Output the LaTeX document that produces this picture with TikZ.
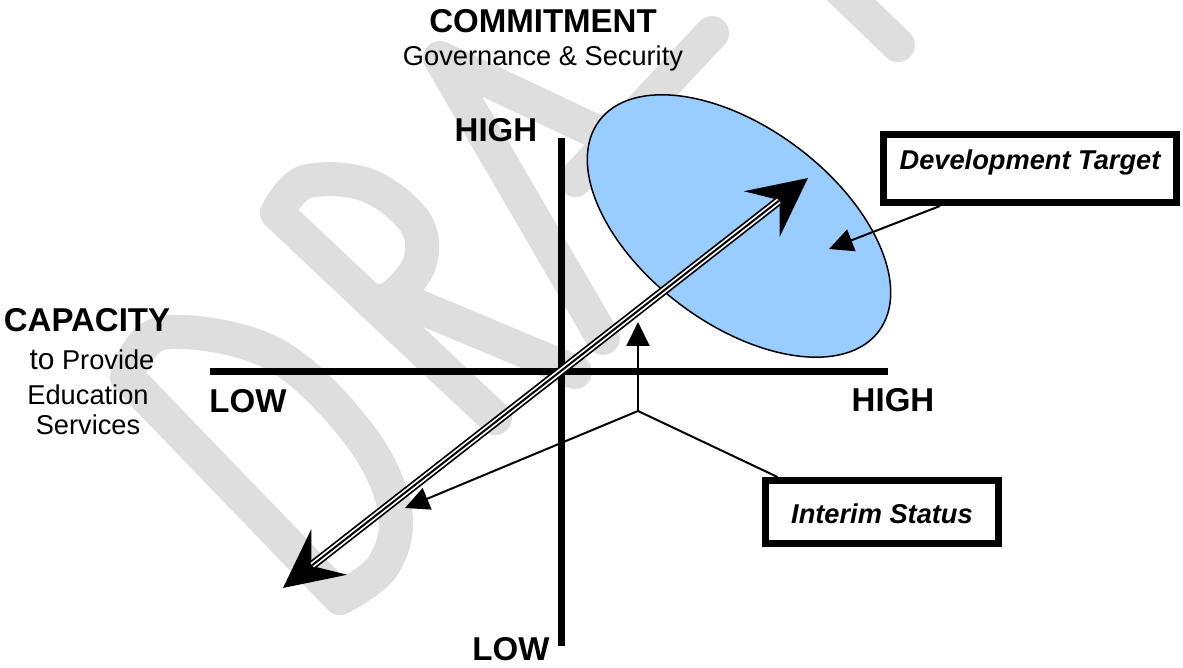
\documentclass[tikz,border=0pt]{standalone}
\usepackage{fontspec}
\setmainfont{Liberation Sans}
\usetikzlibrary{arrows.meta,positioning,shapes.geometric}

\definecolor{zoneblue}{RGB}{153,204,255}
\definecolor{draftgray}{RGB}{222,222,222}

\begin{document}
\begin{tikzpicture}[%
    x=0.02cm,
    y=-0.02cm,
    axis/.style={line width=0.14cm},
    draft/.style={draftgray, line width=0.68cm, line cap=round, line join=round},
    big/.style={font={\fontsize{18.8}{22}\selectfont\bfseries}},
    small/.style={font={\fontsize{15.5}{18.6}\selectfont}},
    callout/.style={draw, line width=0.14cm, fill=white, inner sep=0pt, font={\fontsize{15.5}{18.6}\selectfont\bfseries\itshape}},
    pointer/.style={line width=0.04cm, -{Triangle[length=0.48cm, width=0.46cm]}},
    trend/.style={line width=0.18cm, {Stealth[length=1.16cm, width=1.14cm, inset=0.44cm]}-{Stealth[length=1.16cm, width=1.14cm, inset=0.44cm]}},
    trendgap/.style={white, line width=0.11cm, shorten <=0.74cm, shorten >=0.74cm},
    trendcore/.style={line width=0.04cm, shorten <=0.74cm, shorten >=0.74cm}
    ]

    \useasboundingbox (0,0) rectangle (1183,668);

    % DRAFT in the back
    \draw[draft] plot[smooth, tension=0.6] coordinates {(127,377) (162,333) (272,353) (358,433) (395,510) (383,566) (340,598)} -- cycle;
    \draw[draft] (495,418) -- (277,213) -- plot[smooth, tension=0.6] coordinates {(277,213) (305,182) (367,185) (415,222) (420,262) (395,295) (372,303)};
    \draw[draft] (398,298) -- (575,372);
    \draw[draft] (603,338) -- (440,58) -- (720,190);
    \draw[draft] (575,180) -- (712,33);
    \draw[draft] (820,-30) -- (898,45);

    % titles
    \node[big, anchor=base] (commit) at (543,33) {COMMITMENT};
    \node[small, anchor=base] (govern) at ([yshift=-0.66cm]commit.base) {Governance \& Security};

    \node[big, anchor=base] (capacity) at (87,332) {CAPACITY};
    \node[small, anchor=base] (provide) at (92,370) {{\fontsize{17}{20}\selectfont to} Provide};
    \node[small, anchor=base] (education) at (88,405) {Education};
    \node[small, anchor=base] (services) at (88,435) {Services};

    % the two axes
    \draw[axis] (210,372) -- (888,372);
    \draw[axis] (561,138) -- (561,646);

    \node[big, anchor=base] (hightop) at (496,142) {HIGH};
    \node[big, anchor=base, inner sep=0pt] (lowbottom) at (511,660) {LOW};
    \node[big, anchor=base] (lowleft) at (248,413) {LOW};
    \node[big, anchor=base] (highright) at (893,412) {HIGH};

    \node[ellipse, draw, line width=0.03cm, fill=zoneblue, minimum width=7cm, minimum height=3.92cm, inner sep=0pt, rotate=-37] (zone) at (739,226) {};

    \node[callout, anchor=base, minimum width=5.86cm, text height=0.71cm, text depth=0.65cm] (devtarget) at (1030,170) {Development Target};
    \node[callout, anchor=base, minimum width=4.68cm, text height=0.85cm, text depth=0.41cm] (interim) at (882,523) {Interim Status};

    % trend line through the origin
    \coordinate (sw) at (283,588);
    \coordinate (ne) at (808,178);
    \draw[trend] (sw) -- (ne);
    \draw[trendgap] (sw) -- (ne);
    \draw[trendcore] (sw) -- (ne);

    % callout pointers
    \coordinate (goal) at (829,249);
    \draw[pointer] ([xshift=-1.8cm]devtarget.south) -- (goal);

    \coordinate (fork) at (638,411);
    \coordinate (risetip) at (638,322);
    \coordinate (falltip) at (405,508);
    \draw[pointer] (fork) -- (risetip);
    \draw[pointer] (fork) -- (falltip);
    \draw[line width=0.04cm] (fork) -- ([xshift=0.32cm]interim.north west);

\end{tikzpicture}
\end{document}
